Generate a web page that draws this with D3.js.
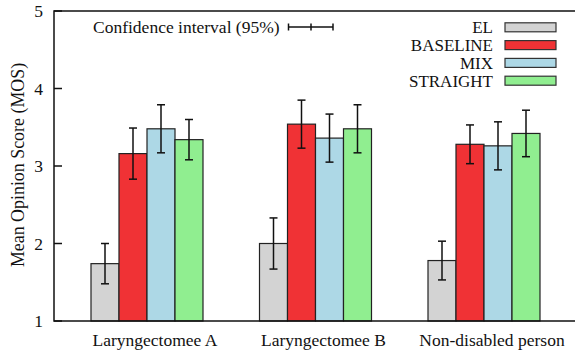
<!DOCTYPE html>
<html><head><meta charset="utf-8">
<script src="https://cdn.jsdelivr.net/npm/d3@7"></script>
<style>body{margin:0;background:#fff}svg{display:block}</style>
</head><body>
<script>
const categories = ["Laryngectomee A", "Laryngectomee B", "Non-disabled person"];
const series = ["EL", "BASELINE", "MIX", "STRAIGHT"];
const colors = ["#d3d3d3", "#f03235", "#add8e6", "#90ee90"];
const meanEL = [1.74, 2.00, 1.78];
const meanBASELINE = [3.16, 3.54, 3.28];
const meanMIX = [3.48, 3.36, 3.26];
const meanSTRAIGHT = [3.34, 3.48, 3.42];
const ciEL = [0.26, 0.33, 0.25];
const ciBASELINE = [0.33, 0.31, 0.25];
const ciMIX = [0.31, 0.31, 0.31];
const ciSTRAIGHT = [0.26, 0.31, 0.30];
const yTicks = [1, 2, 3, 4, 5];

const means = [meanEL, meanBASELINE, meanMIX, meanSTRAIGHT];
const cis = [ciEL, ciBASELINE, ciMIX, ciSTRAIGHT];

const W = 575, H = 354;
const mLeft = 54, mTop = 11, mBottom = 321;
const FONT = "'Liberation Serif', 'DejaVu Serif', serif";
const svg = d3.select("body").append("svg").attr("width", W).attr("height", H)
  .attr("font-family", FONT).style("font-family", FONT);

const y = d3.scaleLinear().domain([1, 5]).range([mBottom, mTop]);
const x0 = d3.scaleBand().domain(categories).range([62.75, 568.25]).padding(0);
const x1 = d3.scaleBand().domain(series).range([28.25, 140.25]).padding(0);

const data = [];
categories.forEach((c, ci) => series.forEach((s, si) => {
  data.push({c, s, si, v: means[si][ci], e: cis[si][ci]});
}));

// bars
svg.append("g").selectAll("rect").data(data).join("rect")
  .attr("x", d => x0(d.c) + x1(d.s))
  .attr("y", d => y(d.v))
  .attr("width", x1.bandwidth())
  .attr("height", d => y(1) - y(d.v))
  .attr("fill", d => colors[d.si])
  .attr("stroke", "#222").attr("stroke-width", 1.2);

// error bars
const eb = svg.append("g").attr("stroke", "#111").attr("stroke-width", 1.5);
data.forEach(d => {
  const cx = x0(d.c) + x1(d.s) + x1.bandwidth() / 2;
  eb.append("line").attr("x1", cx).attr("x2", cx).attr("y1", y(d.v + d.e)).attr("y2", y(d.v - d.e));
  [d.v + d.e, d.v - d.e].forEach(v => eb.append("line").attr("x1", cx - 4).attr("x2", cx + 4).attr("y1", y(v)).attr("y2", y(v)));
});

// axes frame
const ax = svg.append("g").attr("stroke", "#111").attr("stroke-width", 1.5).attr("fill", "none");
ax.append("path").attr("d", `M${W},${mTop}H${mLeft}V${mBottom}H${W}`);
yTicks.forEach(t => {
  ax.append("line").attr("x1", mLeft).attr("x2", mLeft + 8).attr("y1", y(t)).attr("y2", y(t));
});
const tx = svg.append("g").attr("fill", "#111");
tx.selectAll("text.yt").data(yTicks).join("text").attr("class", "yt")
  .attr("x", 43).attr("y", d => y(d)).attr("dy", "0.35em")
  .attr("text-anchor", "end").attr("font-size", 17.5).text(d => d);

// y label
tx.append("text").attr("transform", `translate(24,165) rotate(-90)`)
  .attr("text-anchor", "middle").attr("font-size", 17.9).text("Mean Opinion Score (MOS)");

// x labels
tx.selectAll("text.xl").data(categories).join("text").attr("class", "xl")
  .attr("x", d => x0(d) + x0.bandwidth() / 2 + 8).attr("y", 346)
  .attr("text-anchor", "middle").attr("font-size", 17.5).text(d => d);

// CI legend
tx.append("text").attr("x", 93).attr("y", 27).attr("dy", "0.35em").attr("font-size", 17.5).text("Confidence interval (95%)");
const cl = svg.append("g").attr("stroke", "#111").attr("stroke-width", 1.5);
cl.append("line").attr("x1", 288.5).attr("x2", 333).attr("y1", 27).attr("y2", 27);
[288.5, 311, 333].forEach(xx => cl.append("line").attr("x1", xx).attr("x2", xx).attr("y1", 23.5).attr("y2", 30.5));

// series legend
const lg = svg.append("g");
series.forEach((s, i) => {
  const yy = 27.3 + i * 17.8;
  lg.append("text").attr("x", 493).attr("y", yy).attr("dy", "0.35em").attr("text-anchor", "end")
    .attr("fill", "#111").attr("font-size", 17).text(s);
  lg.append("rect").attr("x", 505).attr("y", yy - 4.5).attr("width", 51).attr("height", 9)
    .attr("fill", colors[i]).attr("stroke", "#333").attr("stroke-width", 1.2);
});
</script>
</body></html>
